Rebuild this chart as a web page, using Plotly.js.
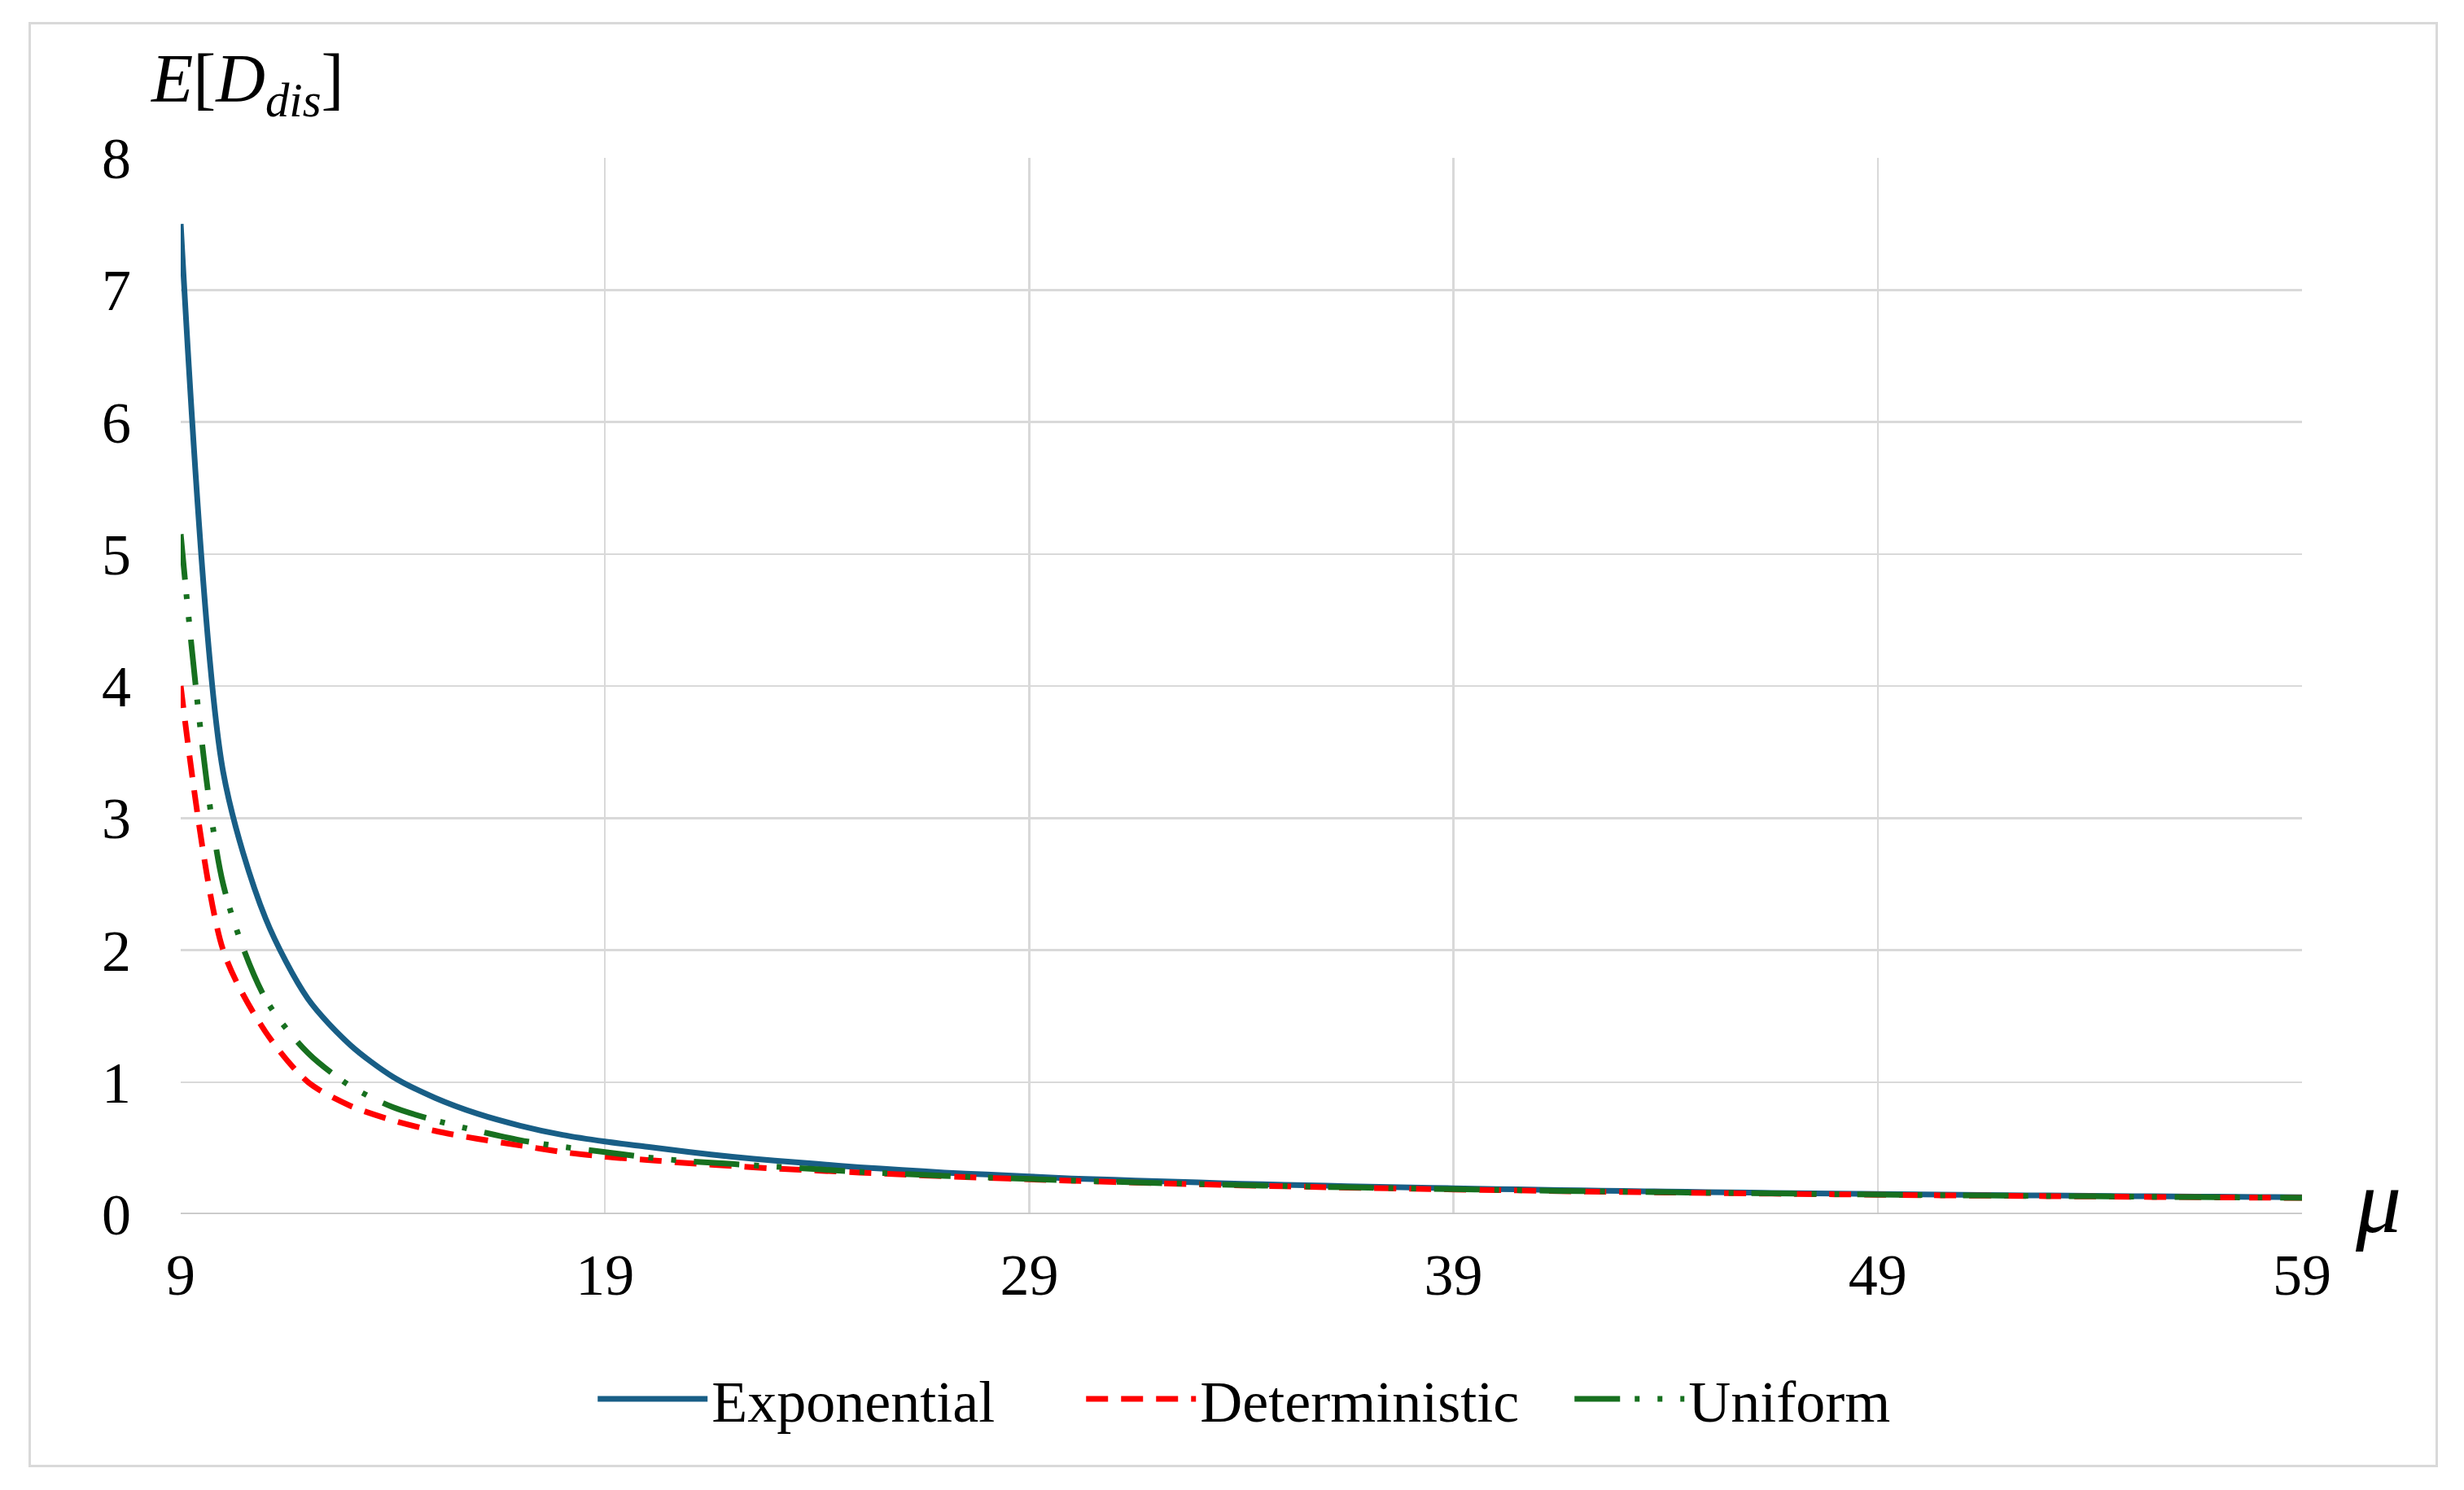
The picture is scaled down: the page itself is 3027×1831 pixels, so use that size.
<!DOCTYPE html>
<html>
<head>
<meta charset="utf-8">
<script src="https://cdn.plot.ly/plotly-3.0.1.min.js"></script>
<style>
  body { margin: 0; background: #fff; }
  #chart {
    position: absolute;
    left: 35px;
    top: 27px;
    width: 2954px;
    height: 1770px;
    border: 3px solid #d9d9d9;
  }
</style>
</head>
<body>
<div id="chart"></div>
<script>
// service rate mu (x axis)
const mu = [9, 10, 11, 12, 13, 14, 15, 16, 17, 18,
            19, 20, 21, 22, 23, 24, 25, 26, 27, 28,
            29, 30, 31, 32, 33, 34, 35, 36, 37, 38,
            39, 40, 41, 42, 43, 44, 45, 46, 47, 48,
            49, 50, 51, 52, 53, 54, 55, 56, 57, 58, 59];

// E[D_dis]
const exponential = [7.5, 3.35, 2.24, 1.63, 1.28, 1.04, 0.88, 0.76, 0.67, 0.60,
                     0.55, 0.51, 0.47, 0.435, 0.405, 0.38, 0.355, 0.335, 0.315, 0.30,
                     0.285, 0.27, 0.26, 0.25, 0.24, 0.23, 0.222, 0.215, 0.208, 0.202,
                     0.196, 0.19, 0.185, 0.18, 0.175, 0.171, 0.167, 0.163, 0.159, 0.156,
                     0.153, 0.15, 0.147, 0.144, 0.141, 0.139, 0.136, 0.134, 0.132, 0.13, 0.128];

const deterministic = [4.0, 2.0, 1.38, 1.0, 0.82, 0.71, 0.63, 0.57, 0.52, 0.47,
                       0.435, 0.41, 0.385, 0.365, 0.345, 0.33, 0.315, 0.30, 0.287, 0.275,
                       0.263, 0.253, 0.243, 0.234, 0.226, 0.218, 0.211, 0.204, 0.198, 0.192,
                       0.187, 0.182, 0.177, 0.172, 0.168, 0.164, 0.16, 0.157, 0.153, 0.15,
                       0.147, 0.144, 0.141, 0.139, 0.136, 0.134, 0.131, 0.129, 0.127, 0.125, 0.123];

const uniform = [5.15, 2.5, 1.63, 1.22, 0.97, 0.81, 0.71, 0.63, 0.56, 0.51,
                 0.47, 0.43, 0.40, 0.38, 0.36, 0.34, 0.32, 0.305, 0.29, 0.278,
                 0.266, 0.255, 0.245, 0.236, 0.228, 0.22, 0.213, 0.206, 0.2, 0.194,
                 0.189, 0.184, 0.179, 0.174, 0.17, 0.166, 0.162, 0.158, 0.155, 0.151,
                 0.148, 0.145, 0.142, 0.14, 0.137, 0.135, 0.132, 0.13, 0.128, 0.126, 0.124];

const xTicks = [9, 19, 29, 39, 49, 59];
const yTicks = [0, 1, 2, 3, 4, 5, 6, 7, 8];

const serif = 'Liberation Serif, Times New Roman, serif';

const data = [
  {
    x: mu, y: exponential, name: 'Exponential',
    type: 'scatter', mode: 'lines',
    line: { color: '#185e86', width: 7, shape: 'spline', smoothing: 0.8 }
  },
  {
    x: mu, y: deterministic, name: 'Deterministic',
    type: 'scatter', mode: 'lines',
    line: { color: '#ff0000', width: 7, dash: '27px,16px', shape: 'spline', smoothing: 0.8 }
  },
  {
    x: mu, y: uniform, name: 'Uniform',
    type: 'scatter', mode: 'lines',
    line: { color: '#17701f', width: 7, dash: '56px,18px,6px,22px,6px,22px', shape: 'spline', smoothing: 0.8 }
  }
];

const layout = {
  width: 2954,
  height: 1770,
  margin: { l: 184, r: 164, t: 164, b: 308 },
  paper_bgcolor: '#fff',
  plot_bgcolor: '#fff',
  font: { family: serif, size: 72, color: '#000' },
  showlegend: true,
  legend: {
    orientation: 'h',
    x: 0.54, xanchor: 'center',
    y: -0.175, yanchor: 'middle',
    font: { family: serif, size: 72, color: '#000' },
    itemwidth: 135,
    entrywidth: 450,
    traceorder: 'normal'
  },
  xaxis: {
    range: [9, 59],
    tickvals: xTicks,
    ticktext: xTicks.map(String),
    showgrid: true,
    gridcolor: '#d9d9d9',
    gridwidth: 2.5,
    zeroline: false,
    showline: false,
    ticks: '',
    ticklabelstandoff: 26,
    tickfont: { family: serif, size: 72, color: '#000' }
  },
  yaxis: {
    range: [0, 8],
    tickvals: yTicks,
    showgrid: true,
    gridcolor: '#d9d9d9',
    gridwidth: 2.5,
    zeroline: false,
    showline: false,
    ticks: '',
    ticklabelstandoff: 60,
    tickfont: { family: serif, size: 72, color: '#000' }
  },
  shapes: [
    {
      type: 'line', xref: 'paper', yref: 'y',
      x0: 0, x1: 1, y0: 0, y1: 0,
      line: { color: '#c4c4c4', width: 3.5 }
    }
  ],
  annotations: [
    {
      xref: 'paper', yref: 'paper',
      x: -0.015, y: 1.07, xanchor: 'left', yanchor: 'middle',
      showarrow: false,
      text: '<i>E</i>[<i>D</i><sub><i>dis</i></sub>]',
      font: { family: serif, size: 84, color: '#000' }
    },
    {
      xref: 'paper', yref: 'paper',
      x: 1.0357, y: 0.012, xanchor: 'center', yanchor: 'middle',
      showarrow: false,
      text: '<i>μ</i>',
      font: { family: serif, size: 112, color: '#000' }
    }
  ]
};

Plotly.newPlot('chart', data, layout, { displayModeBar: false, staticPlot: true });
</script>
</body>
</html>
